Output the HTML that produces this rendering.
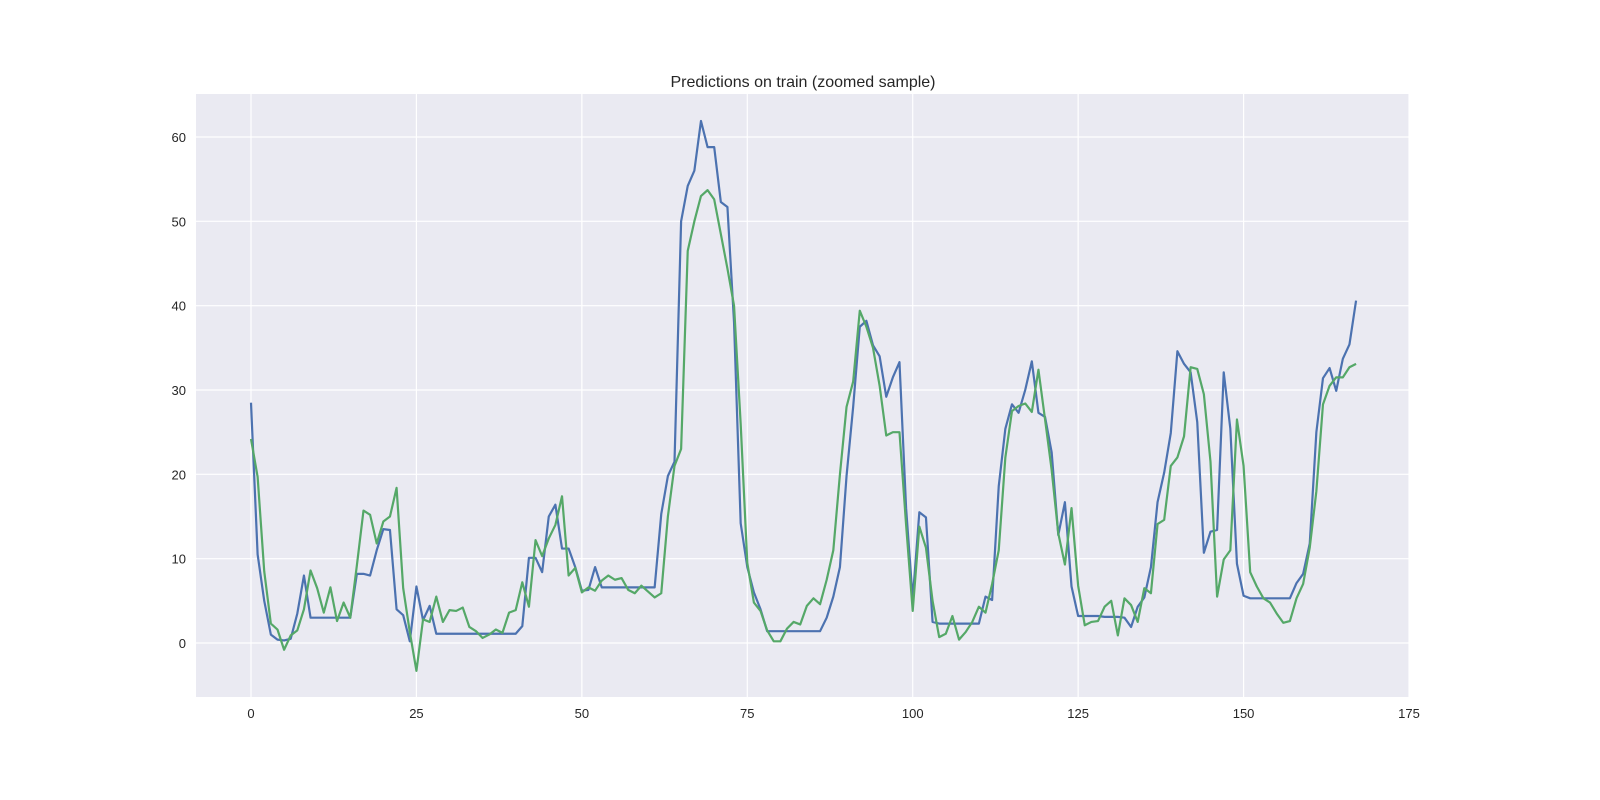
<!DOCTYPE html>
<html><head><meta charset="utf-8"><style>
body{margin:0;background:#fff;}
svg{display:block;font-family:"Liberation Sans","DejaVu Sans",sans-serif;}
</style></head><body>
<svg id="chart" width="1600" height="800">
<rect x="196" y="94" width="1213" height="603" fill="#EAEAF2"/>
<g id="grid"></g><g id="ticks"></g><g id="lines"></g>
<text x="803" y="87" text-anchor="middle" font-size="16" fill="#262626">Predictions on train (zoomed sample)</text>
</svg>
<script>
const actual=[28.5,10.5,5,1,0.4,0.3,0.5,3.5,8,3,3,3,3,3,3,3,8.2,8.2,8,11,13.5,13.4,4,3.3,0.2,6.7,2.7,4.4,1.1,1.1,1.1,1.1,1.1,1.1,1.1,1.1,1.1,1.1,1.1,1.1,1.1,2,10.1,10.1,8.4,15,16.4,11.2,11.2,9,6.2,6.3,9,6.6,6.6,6.6,6.6,6.6,6.6,6.6,6.6,6.6,15.3,19.8,21.5,50,54.2,56,61.9,58.8,58.8,52.3,51.7,38,14.2,9,6,4,1.4,1.4,1.4,1.4,1.4,1.4,1.4,1.4,1.4,3,5.5,9,19.8,28,37.5,38.2,35.3,34,29.2,31.5,33.3,16,5.2,15.5,14.9,2.5,2.3,2.3,2.3,2.3,2.3,2.3,2.3,5.5,5.1,18.6,25.4,28.3,27.3,30,33.4,27.3,26.8,22.6,12.8,16.7,6.7,3.2,3.2,3.2,3.2,3.1,3.1,3.1,3,1.9,4.3,5.4,9,16.7,20.2,24.9,34.6,33.1,32.1,26.2,10.7,13.2,13.4,32.1,25.4,9.4,5.6,5.3,5.3,5.3,5.3,5.3,5.3,5.3,7.1,8.2,11.8,25,31.4,32.6,29.9,33.7,35.4,40.6];
const predicted=[24.2,19.7,8.5,2.3,1.6,-0.8,0.9,1.5,4,8.6,6.5,3.6,6.6,2.6,4.8,3,9.2,15.7,15.2,11.8,14.4,15,18.4,6.5,1.3,-3.3,2.8,2.5,5.5,2.5,3.9,3.8,4.2,1.9,1.4,0.6,1,1.6,1.2,3.6,3.9,7.2,4.3,12.2,10.3,12.4,14,17.4,8,8.9,6,6.6,6.2,7.4,8,7.5,7.7,6.3,5.9,6.8,6.1,5.4,5.9,15,21,23,46.5,50,53,53.7,52.6,48.5,44.4,40,26,9.5,4.8,3.8,1.5,0.2,0.2,1.7,2.5,2.2,4.4,5.3,4.6,7.5,11,20,28,31,39.4,37.5,35,30.5,24.6,25,25,14,3.8,13.8,11.3,5,0.7,1.1,3.2,0.4,1.3,2.5,4.3,3.6,7,11,22,27.5,28.1,28.4,27.4,32.4,26.5,20.5,13,9.3,16,6.8,2.1,2.5,2.6,4.3,5,0.9,5.3,4.5,2.5,6.5,5.9,14.1,14.6,21,22,24.5,32.7,32.5,29.5,21.5,5.5,9.9,11,26.5,21,8.4,6.7,5.3,4.8,3.5,2.4,2.6,5.3,7,11.3,18,28.3,30.5,31.5,31.5,32.7,33.1];
const xTicks=[0,25,50,75,100,125,150,175];
const yTicks=[0,10,20,30,40,50,60];
const NS='http://www.w3.org/2000/svg';
function sx(v){return 251+v*(1409-251)/175;}
function sy(v){return 643-v*(643-137)/60;}
function mk(t,a,p){const e=document.createElementNS(NS,t);for(const k in a)e.setAttribute(k,a[k]);p.appendChild(e);return e;}
const grid=document.getElementById('grid'),ticks=document.getElementById('ticks'),lines=document.getElementById('lines');
xTicks.forEach(t=>{
 const l=mk('line',{x1:sx(t),x2:sx(t),y1:94,y2:697,stroke:'#fff','stroke-width':1.2},grid);
 
 
 const tx=mk('text',{x:sx(t),y:718,'text-anchor':'middle','font-size':13,fill:'#262626'},ticks);
 tx.textContent=t;
 
 
});
yTicks.forEach(t=>{
 const l=mk('line',{x1:196,x2:1409,y1:sy(t),y2:sy(t),stroke:'#fff','stroke-width':1.2},grid);
 
 
 const tx=mk('text',{x:186,y:sy(t)+5,'text-anchor':'end','font-size':13,fill:'#262626'},ticks);
 tx.textContent=t;
 
 
});
function path(arr,color,name){
 const d=arr.map((v,i)=>(i?'L':'M')+sx(i).toFixed(2)+','+sy(v).toFixed(2)).join('');
 const p=mk('path',{d:d,fill:'none',stroke:color,'stroke-width':2.2,'stroke-linejoin':'round'},lines);
 
 
}
path(actual,'#4C72B0','actual-line');
path(predicted,'#55A868','predicted-line');
</script>
</body></html>
